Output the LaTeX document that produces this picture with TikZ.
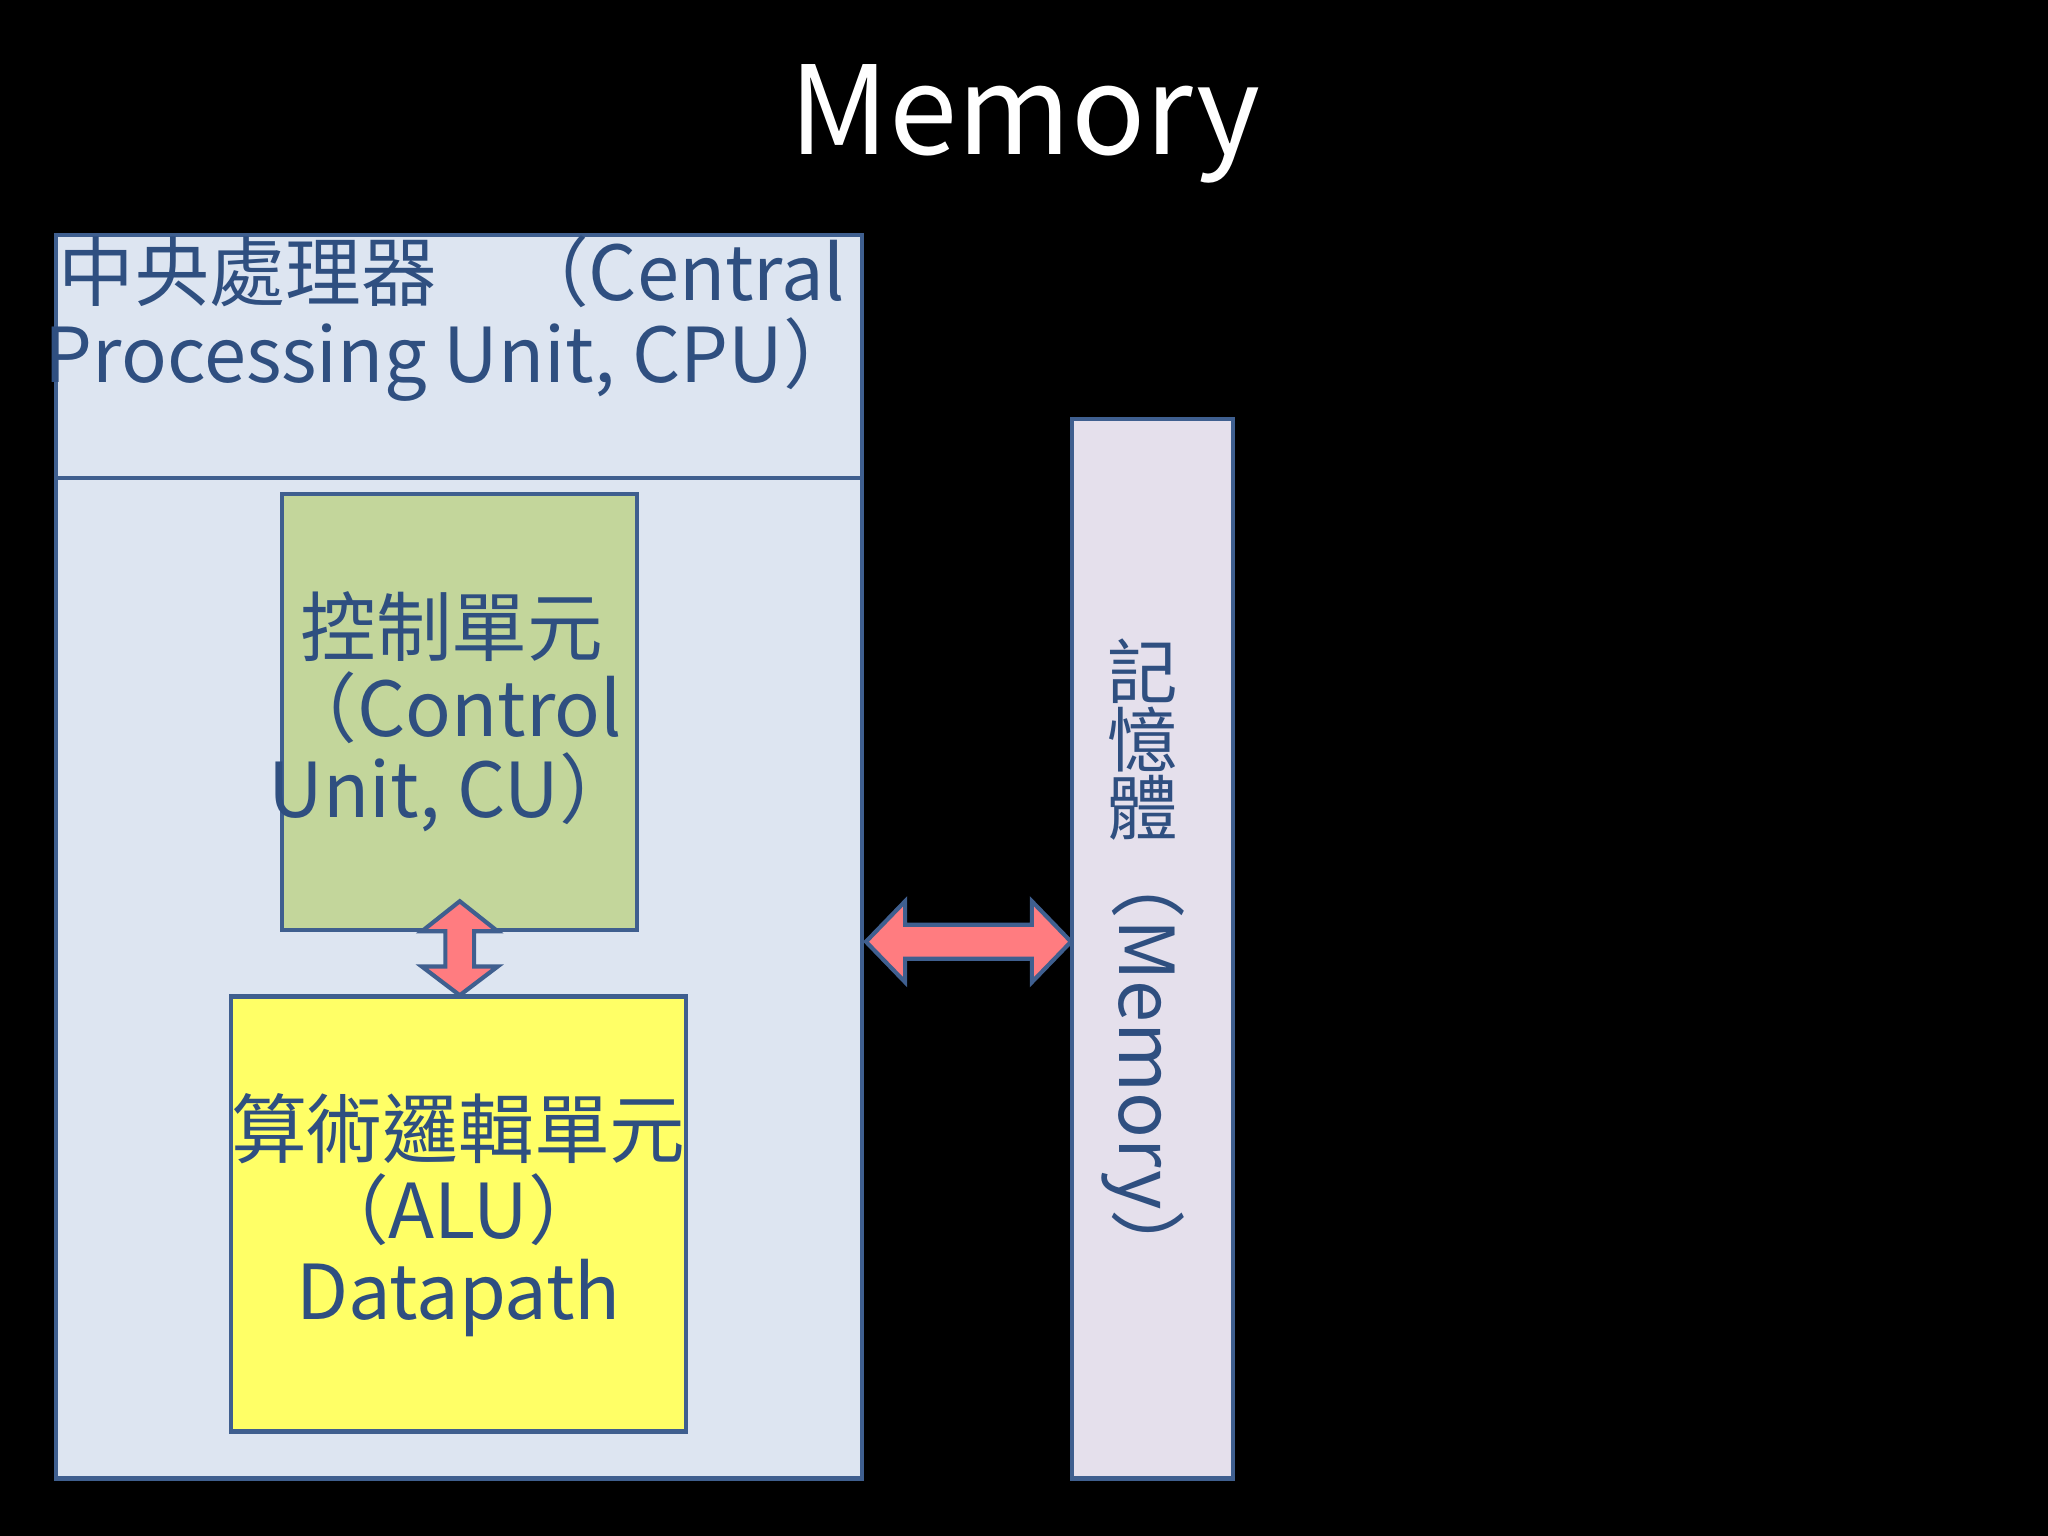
\documentclass[tikz,border=0pt]{standalone}
\usepackage{fontspec}
\setmainfont{Noto Sans CJK TC}
\begin{document}
\begin{tikzpicture}[x=0.5pt,y=-0.5pt,
  bd/.style={draw=bdr,line width=1.6pt},
  txt/.style={text=txtc,align=center,inner sep=0pt},
  arr/.style={bd,fill=arrc,line join=miter}]
\definecolor{bdr}{HTML}{3F5F8F}
\definecolor{txtc}{HTML}{2F4F80}
\definecolor{cpuf}{HTML}{DDE5F1}
\definecolor{cuf}{HTML}{C3D69B}
\definecolor{aluf}{HTML}{FFFF66}
\definecolor{memf}{HTML}{E5E0EC}
\definecolor{arrc}{HTML}{FF7C80}
\fill[black] (0,0) rectangle (1568,1176);
\useasboundingbox (0,0) rectangle (1568,1176);
\node[text=white,font=\fontsize{47}{50}\selectfont] (title) at (785,95) {Memory};
\node[bd,fill=cpuf,minimum width=308.5pt,minimum height=476pt,inner sep=0pt] (cpu) at (351.5,656) {};
\draw[bd] (43,366) -- (660,366);
\node[txt,font=\fontsize{29}{31.5}\selectfont,anchor=center] (cputitle) at (346,244) {中央處理器\quad（Central\\Processing Unit, CPU）};
\node[bd,fill=cuf,minimum width=136pt,minimum height=167pt,inner sep=0pt] (cu) at (352,545) {};
\node[txt,font=\fontsize{29}{31}\selectfont] (cut) at (346,545) {控制單元\\（Control\\Unit, CU）};
\node[bd,fill=aluf,minimum width=174pt,minimum height=166.5pt,inner sep=0pt] (alu) at (351,929.5) {};
\node[txt,font=\fontsize{29}{31}\selectfont] (alut) at (351,930) {算術邏輯單元\\（ALU）\\Datapath};
\node[bd,fill=memf,minimum width=61.5pt,minimum height=405.5pt,inner sep=0pt] (mem) at (882.5,726.5) {};
\node[txt,font=\fontsize{27}{26}\selectfont] (memc) at (875,566) {記\\憶\\體};
\node[txt,font=\fontsize{29}{31}\selectfont,rotate=-90] (meml) at (875,815) {（Memory）};
% horizontal double arrow
\draw[arr] (663,721) -- (693,690) -- (693,708) -- (790,708) -- (790,690) -- (820,721)
  -- (790,752) -- (790,734) -- (693,734) -- (693,752) -- cycle;
% vertical double arrow
\draw[arr] (352,690) -- (381,713) -- (363,713) -- (363,740) -- (381,740) -- (352,762)
  -- (323,740) -- (341,740) -- (341,713) -- (323,713) -- cycle;
\end{tikzpicture}
\end{document}
